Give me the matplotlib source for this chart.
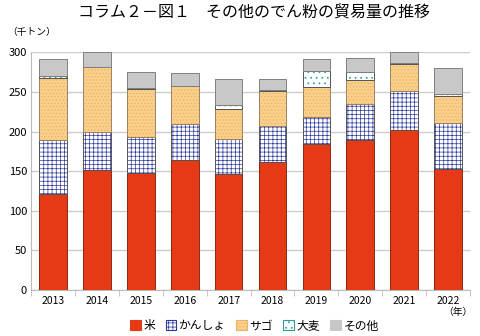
import matplotlib.pyplot as plt
import numpy as np

plt.rcParams['font.family'] = ['Noto Sans CJK JP', 'DejaVu Sans']
plt.rcParams['hatch.linewidth'] = 0.5

years = ['2013', '2014', '2015', '2016', '2017', '2018', '2019', '2020', '2021', '2022']
rice = [121, 152, 148, 164, 147, 161, 184, 190, 202, 153]
kansho = [69, 48, 45, 46, 44, 46, 34, 45, 49, 58]
sago = [78, 81, 61, 47, 37, 44, 38, 30, 34, 34]
barley = [2, 1, 1, 0.5, 6, 1, 20, 10, 2, 3]
other = [22, 18, 20, 16, 32, 14, 16, 18, 13, 32]

labels = ['米', 'かんしょ', 'サゴ', '大麦', 'その他']
faces = ['#E63A16', 'white', '#F9D08A', 'white', '#C8C8C8']
hatches = [None, '++++', '.....', '...', None]
hatch_cols = ['#E63A16', '#2B3A9A', '#EBB06A', '#2A9A9A', '#C8C8C8']
edges = ['#8A2A10', '#555555', '#A08060', '#555555', '#808080']

fig = plt.figure(figsize=(4.8, 3.36), dpi=100)
ax = fig.add_axes([0.065, 0.137, 0.914, 0.707])

x = np.arange(len(years))
bottom = np.zeros(len(years))
handles = []
for vals, lab, fc, h, hc, ec in zip([rice, kansho, sago, barley, other], labels, faces, hatches, hatch_cols, edges):
    vals = np.array(vals, dtype=float)
    ax.bar(x, vals, 0.63, bottom=bottom, color=fc, hatch=h, edgecolor=hc, linewidth=0, zorder=3)
    ax.bar(x, vals, 0.63, bottom=bottom, fill=False, edgecolor=ec, linewidth=0.7, zorder=4)
    handles.append(plt.Rectangle((0, 0), 1, 1, facecolor=fc, hatch=h, edgecolor=hc, linewidth=0.8))
    bottom += vals

ax.set_xlim(-0.5, len(years) - 0.5)
ax.set_ylim(0, 300)
ax.set_yticks(range(0, 301, 50))
ax.set_xticks(x)
ax.set_xticklabels(years)
ax.set_xticks(np.arange(-0.5, len(years), 1), minor=True)
ax.tick_params(axis='x', which='major', length=0, labelsize=7.5, pad=4)
ax.tick_params(axis='x', which='minor', length=4, color='#BBBBBB')
ax.tick_params(axis='y', length=0, labelsize=8, pad=3)
ax.yaxis.grid(True, color='#CCCCCC', linewidth=1, zorder=0)
for s in ['top', 'right']:
    ax.spines[s].set_visible(False)
for s in ['left', 'bottom']:
    ax.spines[s].set_color('#BBBBBB')

fig.text(0.53, 0.962, 'コラム２－図１　その他のでん粉の貿易量の推移', ha='center', va='center', fontsize=11.5)
fig.text(0.015, 0.905, '（千トン）', ha='left', va='center', fontsize=7)
fig.text(0.985, 0.07, '（年）', ha='right', va='center', fontsize=7)

fig.legend(handles, labels, loc='center', bbox_to_anchor=(0.53, 0.03), ncol=5, frameon=False,
           fontsize=8.5, handlelength=0.9, handleheight=0.9, handletextpad=0.2, columnspacing=0.9)

fig.savefig('out.png', dpi=100)
